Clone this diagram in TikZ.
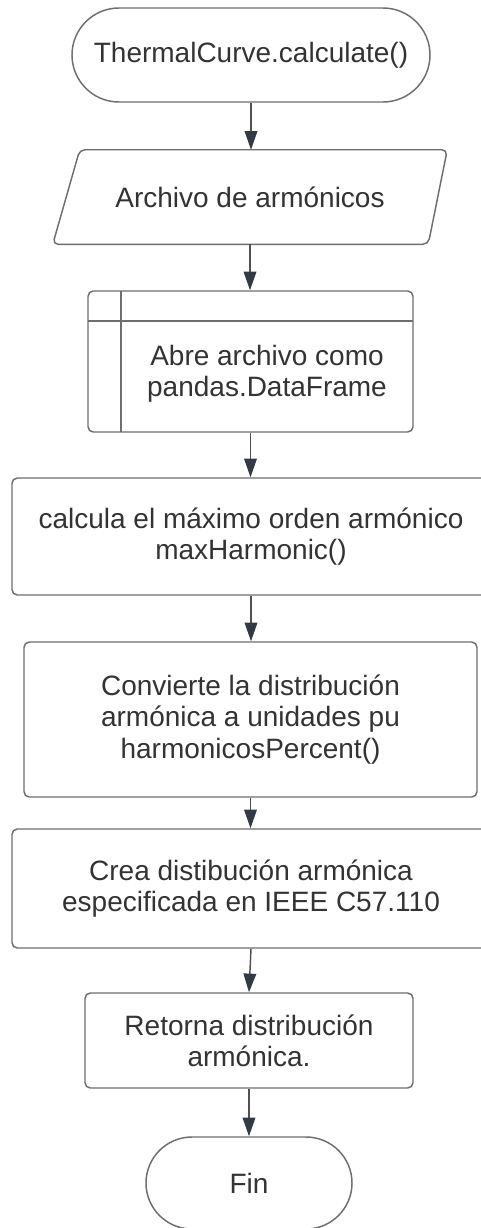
\documentclass[tikz,border=0pt]{standalone}
\usepackage{fontspec}
\setmainfont{Liberation Sans}
\usetikzlibrary{arrows.meta,shapes.misc,calc}
\definecolor{edge}{HTML}{6E6E6E}
\definecolor{wire}{HTML}{505050}
\definecolor{tipc}{HTML}{333A46}
\definecolor{ink}{HTML}{333333}
\tikzset{
  base/.style={text=ink, align=center, inner sep=0pt,
    font=\fontsize{21pt}{23.4pt}\selectfont},
  boxed/.style={base, draw=edge, line width=1.1pt, rounded corners=4pt},
  terminal/.style={base, draw=edge, line width=1.1pt, rounded rectangle,
    rounded rectangle arc length=180},
  flow/.style={draw=wire, line width=1.1pt,
    -{Triangle[length=14pt,width=9.5pt,color=tipc,fill=tipc]}},
}
\begin{document}
\begin{tikzpicture}[x=0.75pt,y=-0.75pt]
\clip (0,0) rectangle (481,1228);
\fill[white] (0,0) rectangle (481,1228);

% start
\node[terminal, minimum width=268.5pt, minimum height=70.5pt] (start) at (251,55)
  {ThermalCurve.calculate()};

% input data (parallelogram drawn around the node)
\node[base, minimum width=295.5pt, minimum height=70.5pt] (input) at (250,197)
  {Archivo de armónicos};
\draw[edge, line width=1.1pt, rounded corners=4pt]
  (input.south west) -- ($(input.north west)+(27,0)$) -- (input.north east)
  -- ($(input.south east)+(-19,0)$) -- cycle;

% predefined process
\node[boxed, minimum width=243.75pt, minimum height=105.75pt] (load) at (250.5,361.5) {};
\draw[edge, line width=1.1pt] (121,291) -- (121,432);
\draw[edge, line width=1.1pt] (88,321) -- (413,321);
\node[base] (loadtext) at (267,374) {Abre archivo como\\pandas.DataFrame};

% processes
\node[boxed, minimum width=358.5pt, minimum height=87.75pt] (maxh) at (251,536.5)
  {calcula el máximo orden armónico\\maxHarmonic()};
\node[boxed, minimum width=339.75pt, minimum height=116.25pt] (pu) at (250.5,719.5)
  {Convierte la distribución\\armónica a unidades pu\\harmonicosPercent()};
\node[boxed, minimum width=358.5pt, minimum height=89.25pt] (ieee) at (251,888.5)
  {Crea distibución armónica\\especificada en IEEE C57.110};
\node[boxed, minimum width=246pt, minimum height=71.25pt] (ret) at (249,1040.5)
  {Retorna distribución\\armónica.};

% end
\node[terminal, minimum width=154.5pt, minimum height=69pt] (fin) at (249,1183) {Fin};

% connectors
\draw[flow] (start.south) -- (start.south |- input.north);
\draw[flow] (input.south) -- (input.south |- load.north);
\draw[flow] (load.south) -- (load.south |- maxh.north);
\draw[flow] (maxh.south) -- (maxh.south |- pu.north);
\draw[flow] (pu.south) -- (pu.south |- ieee.north);
\draw[flow] (ieee.south) -- (ret.north);
\draw[flow] (ret.south) -- (ret.south |- fin.north);
\end{tikzpicture}
\end{document}
